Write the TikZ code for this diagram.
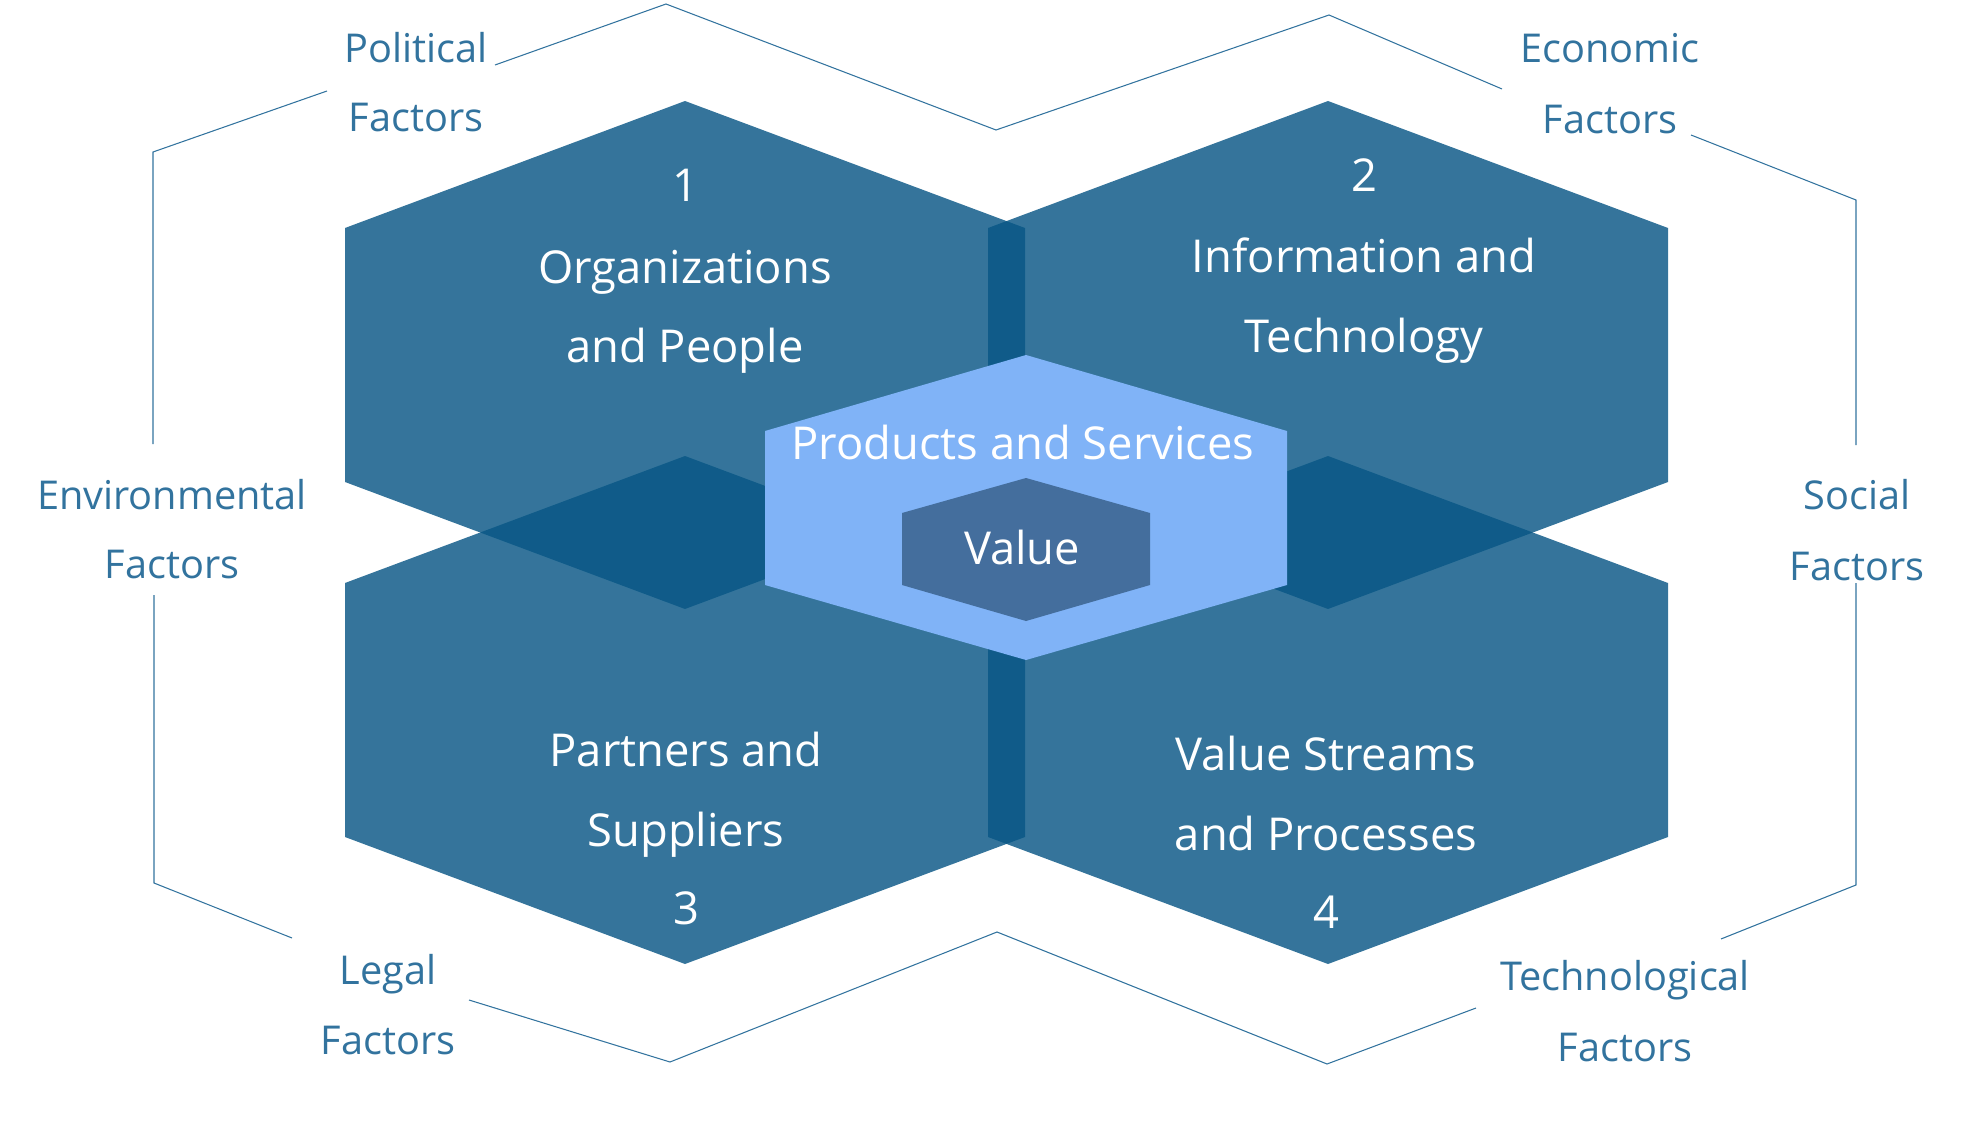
\documentclass[tikz,border=0pt]{standalone}
\usepackage{fontspec}
\setmainfont{Open Sans}
\definecolor{hexblue}{RGB}{8, 86, 133}
\definecolor{lightblue}{RGB}{128, 179, 247}
\definecolor{valueblue}{RGB}{68, 110, 157}
\definecolor{factorblue}{RGB}{50, 115, 158}
\usetikzlibrary{positioning,shapes,arrows,calc}

\begin{document}
\begin{tikzpicture}[x=0.02cm, y=-0.02cm,
    hexfill/.style={fill=hexblue, fill opacity=0.82},
    outline/.style={draw=factorblue, line width=0.6pt},
    inner/.style={text=white, anchor=base, inner sep=0pt, font=\fontsize{25.8}{30}\selectfont},
    factor/.style={text=factorblue, anchor=base, inner sep=0pt, font=\fontsize{22.6}{26}\selectfont}]
    \useasboundingbox (0,0) rectangle (1961,1122);

    % four big hexagons
    \foreach \cx/\cy in {685/355, 1328/355, 685/710, 1328/710}
        \fill[hexfill] (\cx,\cy-254) -- (\cx+340,\cy-127) -- (\cx+340,\cy+127)
            -- (\cx,\cy+254) -- (\cx-340,\cy+127) -- (\cx-340,\cy-127) -- cycle;

    % centre hexagons
    \fill[lightblue] (1026,355) -- (1287,431) -- (1287,585) -- (1026,660)
        -- (765,585) -- (765,431) -- cycle;
    \fill[valueblue] (1026,478) -- (1150,513) -- (1150,585) -- (1026,621)
        -- (902,585) -- (902,513) -- cycle;

    % outer frame
    \draw[outline] (495,65) -- (666,4) -- (996,130) -- (1329,15) -- (1502,89);
    \draw[outline] (1691,135) -- (1856,200) -- (1856,445);
    \draw[outline] (1856,583) -- (1856,885) -- (1721,939);
    \draw[outline] (1476,1008) -- (1327,1064) -- (997,932) -- (670,1062) -- (469,1000);
    \draw[outline] (292,938) -- (154,883) -- (154,595);
    \draw[outline] (153,444) -- (153,152) -- (327,91);

    % hexagon labels
    \node[inner] (num1) at (685,201) {1};
    \node[inner] (org1) at (685,283) {Organizations};
    \node[inner] (org2) at (685,362) {and People};
    \node[inner] (num2) at (1364,192) {2};
    \node[inner] (inf1) at (1364,272) {Information and};
    \node[inner] (inf2) at (1364,352) {Technology};
    \node[inner] (par1) at (686,766) {Partners and};
    \node[inner] (par2) at (686,846) {Suppliers};
    \node[inner] (num3) at (686,924) {3};
    \node[inner] (val1) at (1326,770) {Value Streams};
    \node[inner] (val2) at (1326,850) {and Processes};
    \node[inner] (num4) at (1326,928) {4};
    \node[inner] (prod) at (1023,459) {Products and Services};
    \node[inner] (value) at (1022,564) {Value};

    % factor labels
    \node[factor] (pol1) at (416,63) {Political};
    \node[factor] (pol2) at (416,132) {Factors};
    \node[factor] (eco1) at (1610,63) {Economic};
    \node[factor] (eco2) at (1610,133) {Factors};
    \node[factor] (soc1) at (1857,509) {Social};
    \node[factor] (soc2) at (1857,580) {Factors};
    \node[factor] (env1) at (172,509) {Environmental};
    \node[factor] (env2) at (172,578) {Factors};
    \node[factor] (leg1) at (388,984) {Legal};
    \node[factor] (leg2) at (388,1054) {Factors};
    \node[factor] (tec1) at (1625,990) {Technological};
    \node[factor] (tec2) at (1625,1061) {Factors};
\end{tikzpicture}
\end{document}
